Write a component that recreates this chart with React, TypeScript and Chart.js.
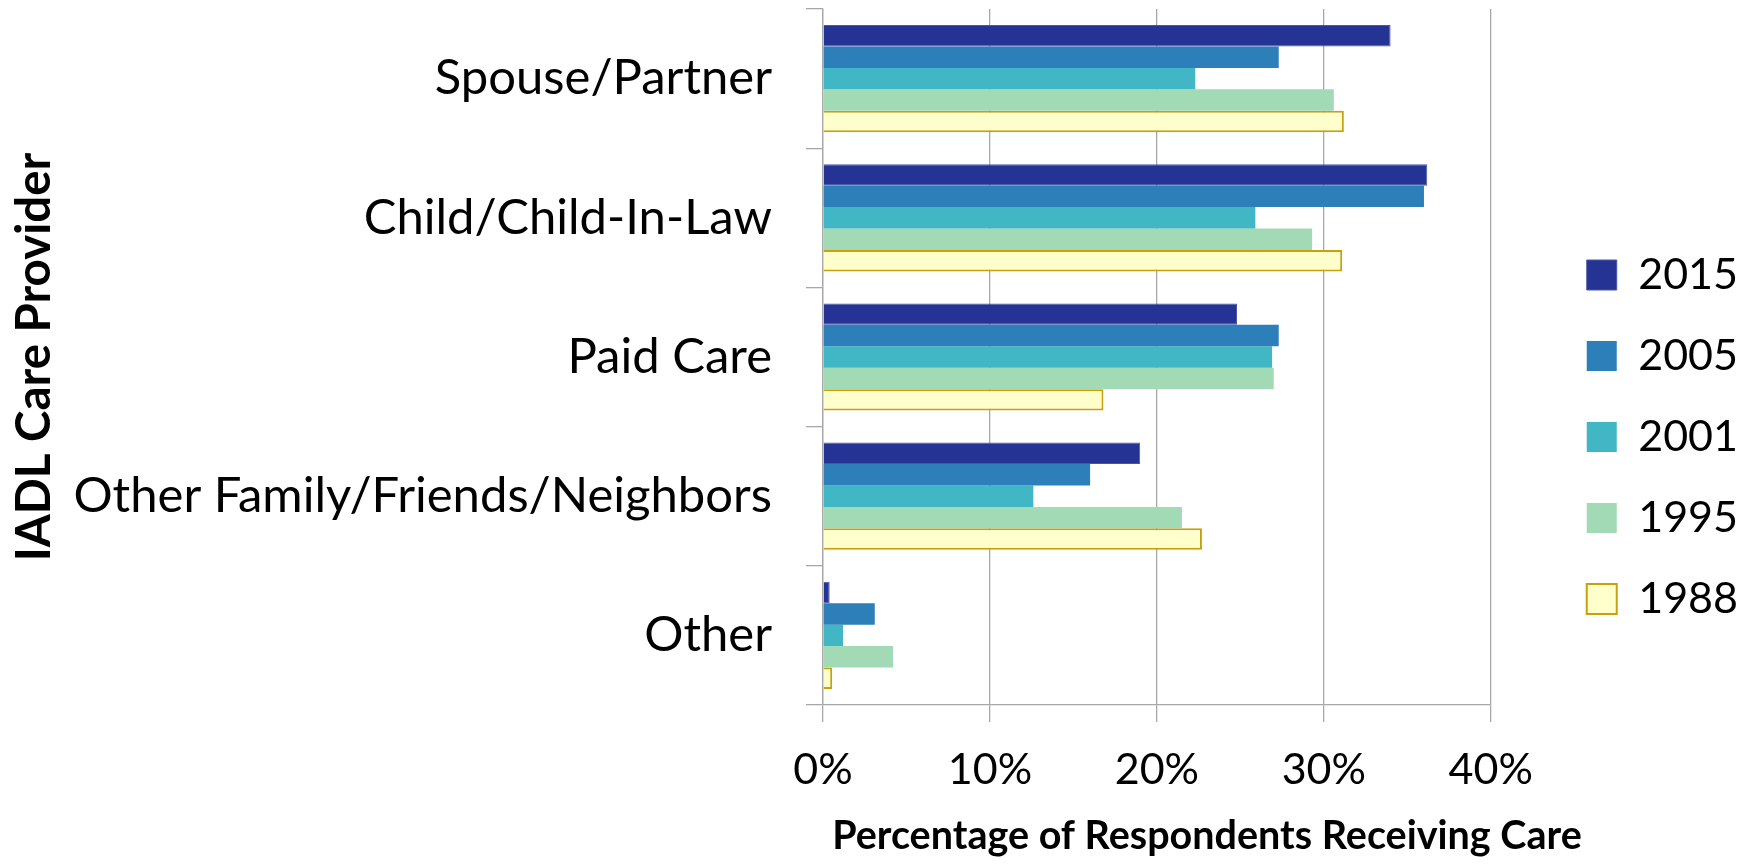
import React, { useEffect, useRef } from "react";
import { Chart, registerables } from "chart.js";

Chart.register(...registerables);

const categories = [
  "Spouse/Partner",
  "Child/Child-In-Law",
  "Paid Care",
  "Other Family/Friends/Neighbors",
  "Other",
];

const seriesLabels = ["2015", "2005", "2001", "1995", "1988"];

const values2015 = [34.0, 36.2, 24.8, 19.0, 0.4];
const values2005 = [27.3, 36.0, 27.3, 16.0, 3.1];
const values2001 = [22.3, 25.9, 26.9, 12.6, 1.2];
const values1995 = [30.6, 29.3, 27.0, 21.5, 4.2];
const values1988 = [31.2, 31.1, 16.8, 22.7, 0.55];

const xTicks = [0, 10, 20, 30, 40];

const xTitle = "Percentage of Respondents Receiving Care";
const yTitle = "IADL Care Provider";

const FONT = "Lato";

const xTitlePlugin = {
  id: "xTitlePlugin",
  afterDraw(chart: any) {
    const { ctx, chartArea } = chart;
    ctx.save();
    ctx.font = `bold 39.5px ${FONT}`;
    ctx.fillStyle = "#000";
    ctx.textAlign = "center";
    ctx.textBaseline = "alphabetic";
    const cx = chartArea.left + (chartArea.right - chartArea.left) * 0.575;
    ctx.fillText(xTitle, cx, chart.height - 16);
    ctx.restore();
  },
};

const zeroPad = (scale: any) => {
  scale.paddingTop = 0;
  scale.paddingBottom = 0;
};

export default function App() {
  const ref = useRef<HTMLCanvasElement | null>(null);

  useEffect(() => {
    document.body.style.margin = "0";
    const canvas = ref.current;
    if (!canvas) return;
    const gridColor = "#a8a8a8";
    const chart = new Chart(canvas, {
      type: "bar",
      data: {
        labels: categories,
        datasets: [
          { label: seriesLabels[0], data: values2015, backgroundColor: "#253494", borderColor: "#4a57a6", borderWidth: 1 },
          { label: seriesLabels[1], data: values2005, backgroundColor: "#2c7fb8", borderColor: "#2c7fb8", borderWidth: 0 },
          { label: seriesLabels[2], data: values2001, backgroundColor: "#41b6c4", borderColor: "#41b6c4", borderWidth: 0 },
          { label: seriesLabels[3], data: values1995, backgroundColor: "#a1dab4", borderColor: "#a1dab4", borderWidth: 0 },
          { label: seriesLabels[4], data: values1988, backgroundColor: "#ffffcc", borderColor: "#c9a00c", borderWidth: 2 },
        ],
      },
      options: {
        animation: false,
        responsive: false,
        indexAxis: "y",
        datasets: {
          bar: { categoryPercentage: 0.77, barPercentage: 1.0 },
        },
        layout: { padding: { top: 9, left: 0, right: 0, bottom: 0 } },
        scales: {
          x: {
            type: "linear",
            min: 0,
            max: 40,
            afterBuildTicks: (scale: any) => {
              scale.ticks = xTicks.map((v) => ({ value: v }));
            },
            afterFit: (scale: any) => {
              scale.height = 160;
            },
            ticks: {
              color: "#000",
              font: { family: FONT, size: 43 },
              padding: 22,
              callback: (v: any) => `${v}%`,
            },
            grid: {
              color: gridColor,
              lineWidth: 1.3,
              drawOnChartArea: true,
              drawTicks: true,
              tickLength: 17,
            },
            border: { display: true, color: gridColor, width: 1.3 },
          },
          y: {
            type: "category",
            afterFit: (scale: any) => {
              scale.width = 823;
              zeroPad(scale);
            },
            ticks: {
              color: "#000",
              font: { family: FONT, size: 49 },
              padding: 34,
            },
            grid: {
              color: gridColor,
              lineWidth: 1.3,
              offset: true,
              drawOnChartArea: false,
              drawTicks: true,
              tickLength: 17,
            },
            border: { display: true, color: gridColor, width: 1.3 },
            title: {
              display: true,
              text: yTitle,
              color: "#000",
              font: { family: FONT, size: 47.5, weight: "bold" },
              padding: { top: 6, bottom: 0 },
            },
          },
          pad: {
            type: "linear",
            position: "right",
            display: true,
            grid: { display: false },
            ticks: { display: false },
            border: { display: false },
            afterFit: (scale: any) => {
              scale.width = 58;
              zeroPad(scale);
            },
          },
        },
        plugins: {
          legend: {
            display: true,
            position: "right",
            labels: {
              color: "#000",
              font: { family: FONT, size: 43 },
              boxWidth: 30,
              boxHeight: 30,
              padding: 38,
            },
          },
          tooltip: { enabled: false },
          title: { display: false },
        },
      } as any,
      plugins: [xTitlePlugin],
    });
    return () => chart.destroy();
  }, []);

  return (
    <div style={{ width: 1748, height: 865 }}>
      <canvas ref={ref} width={1748} height={865} style={{ display: "block" }} />
    </div>
  );
}
